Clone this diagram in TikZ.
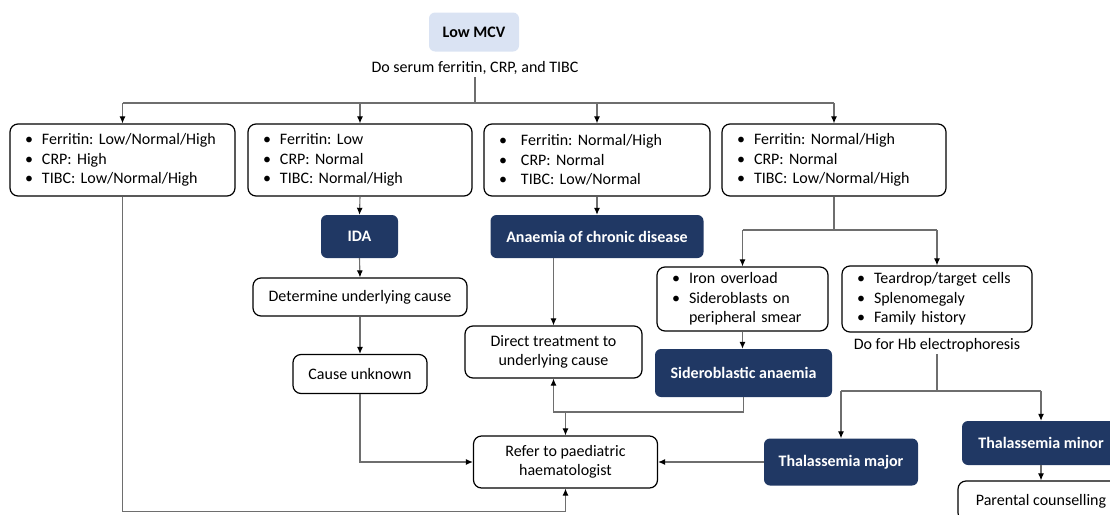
\documentclass[tikz,border=0pt]{standalone}
\usepackage{fontspec}
\setmainfont{Carlito}
\usetikzlibrary{arrows.meta}
\definecolor{navybox}{RGB}{32, 56, 100}
\definecolor{paleblue}{RGB}{218, 227, 243}
\definecolor{linegray}{RGB}{110, 110, 110}
\newcommand{\bul}{\makebox[17pt][l]{\textbullet}}
\frenchspacing

\begin{document}
\begin{tikzpicture}[x=1pt, y=-1pt, >={Latex[length=7pt,width=6pt,black]},
    font=\fontsize{16}{19.5}\selectfont,
    ln/.style={draw=linegray, line width=1.1pt},
    arr/.style={ln, ->},
    bbox/.style={draw, line width=1.2pt, rounded corners=8pt, inner xsep=15pt, inner ysep=0pt, align=left},
    rbox/.style={draw, line width=1.2pt, rounded corners=8pt, inner sep=0pt, align=center},
    dbox/.style={fill=navybox, rounded corners=6pt, inner sep=0pt, text=white, font=\fontsize{16}{19.5}\selectfont\bfseries, align=center}]
    \clip (0,0) rectangle (1110,514);

    \node[fill=paleblue, rounded corners=6pt, minimum width=90pt, minimum height=39pt, font=\fontsize{16}{19.5}\selectfont\bfseries] (lowmcv) at (474, 32) {Low MCV};
    \node[inner sep=2pt] (dotest) at (475, 68) {Do serum ferritin, CRP, and TIBC};
    \coordinate (split1) at (475, 103);

    \node[bbox, text width=195pt, minimum height=72pt] (box1) at (122.5, 160) {\bul Ferritin: Low/Normal/High\\ \bul CRP: High\\ \bul TIBC: Low/Normal/High};
    \node[bbox, text width=194pt, minimum height=72pt] (box2) at (360, 160) {\bul Ferritin: Low\\ \bul CRP: Normal\\ \bul TIBC: Normal/High};
    \node[bbox, text width=196pt, minimum height=72pt] (box3) at (597, 160) {\makebox[22pt][l]{\textbullet}Ferritin: Normal/High\\ \makebox[22pt][l]{\textbullet}CRP: Normal\\ \makebox[22pt][l]{\textbullet}TIBC: Low/Normal};
    \node[bbox, text width=194pt, minimum height=72pt] (box4) at (834, 160) {\bul Ferritin: Normal/High\\ \bul CRP: Normal\\ \bul TIBC: Low/Normal/High};

    \node[dbox, minimum width=77pt, minimum height=43pt] (ida) at (359.5, 236.5) {IDA};
    \node[dbox, minimum width=213pt, minimum height=43pt] (acd) at (597, 236.5) {Anaemia of chronic disease};
    \node[rbox, minimum width=214pt, minimum height=38pt] (determine) at (360, 297) {Determine underlying cause};
    \node[rbox, minimum width=134pt, minimum height=39pt] (unknown) at (360, 374) {Cause unknown};
    \node[rbox, minimum width=177pt, minimum height=52pt] (direct) at (553.5, 352) {Direct treatment to\\ underlying cause};
    \node[rbox, minimum width=184pt, minimum height=52pt] (refer) at (565.5, 462) {Refer to paediatric\\ haematologist};

    \coordinate (split2) at (834, 230);
    \node[bbox, text width=141pt, minimum height=64pt] (iron) at (742.5, 299) {\bul Iron overload\\ \bul Sideroblasts on\\ \hspace*{17pt}peripheral smear};
    \node[bbox, text width=160pt, minimum height=66pt] (tear) at (937, 299) {\bul Teardrop/target cells\\ \bul Splenomegaly\\ \bul Family history};
    \node[inner sep=2pt] (dohb) at (937, 345) {Do for Hb electrophoresis};
    \node[dbox, minimum width=177pt, minimum height=48pt] (sidero) at (743.5, 373) {Sideroblastic anaemia};
    \coordinate (split3) at (650, 412);

    \coordinate (split4) at (937, 391);
    \node[dbox, minimum width=154pt, minimum height=47pt] (major) at (841, 462) {Thalassemia major};
    \node[dbox, minimum width=158pt, minimum height=44pt] (minor) at (1041, 443) {Thalassemia minor};
    \node[rbox, minimum width=166pt, minimum height=40pt] (parent) at (1041, 501) {Parental counselling};

    \draw[ln] (dotest.south) -- (split1);
    \draw[ln] (box1.north |- split1) -- (box4.north |- split1);
    \foreach \b in {box1, box2, box3, box4}
        \draw[arr] (\b.north |- split1) -- (\b.north);

    \draw[arr] (box1.south) -- ++(0, 315) -| (refer.south);
    \draw[arr] (box2.south) -- (ida.north);
    \draw[arr] (ida.south) -- (determine.north);
    \draw[arr] (determine.south) -- (unknown.north);
    \draw[arr] (unknown.south) |- (refer.west);

    \draw[arr] (box3.south) -- (acd.north);
    \draw[arr] (acd.south -| direct.north) -- (direct.north);

    \draw[ln] (box4.south) -- (split2);
    \draw[ln] (iron.north |- split2) -- (tear.north |- split2);
    \draw[arr] (iron.north |- split2) -- (iron.north);
    \draw[arr] (tear.north |- split2) -- (tear.north);
    \draw[arr] (iron.south) -- (iron.south |- sidero.north);
    \draw[arr] (sidero.south) -- (sidero.south |- split3) -| (direct.south);
    \draw[arr] (refer.north |- split3) -- (refer.north);

    \draw[ln] (dohb.south) -- (split4);
    \draw[ln] (major.north |- split4) -- (minor.north |- split4);
    \draw[arr] (major.north |- split4) -- (major.north);
    \draw[arr] (minor.north |- split4) -- (minor.north);
    \draw[arr] (major.west) -- (refer.east);
    \draw[arr] (minor.south) -- (parent.north);
  \end{tikzpicture}
\end{document}
